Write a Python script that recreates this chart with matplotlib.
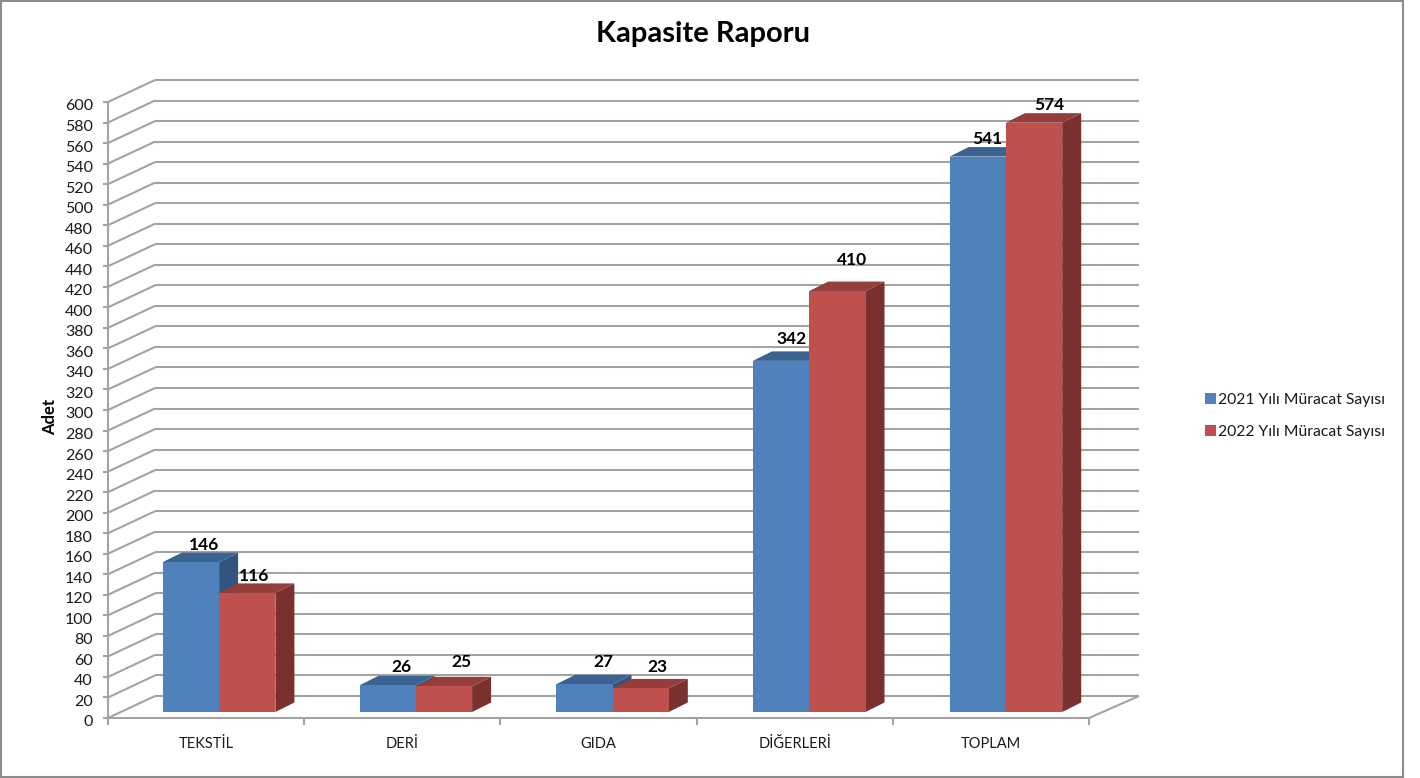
import matplotlib
matplotlib.use("Agg")
import matplotlib.pyplot as plt
from matplotlib.patches import Polygon, Rectangle, Patch

categories = ["TEKSTİL", "DERİ", "GIDA", "DİĞERLERİ", "TOPLAM"]
values_2021 = [146, 26, 27, 342, 541]
values_2022 = [116, 25, 23, 410, 574]
series_names = ["2021 Yılı Müracat Sayısı", "2022 Yılı Müracat Sayısı"]
y_ticks = list(range(0, 601, 20))

# nudges of the data labels, in pixels, from the top middle of each bar
nudge_2021 = [(13, 17), (14, 18), (19, 22), (10, 22), (10, 18)]
nudge_2022 = [(7, 17), (17, 24), (17, 21), (15, 31), (15, 18)]

W, H = 1420, 778
plt.rcParams["font.family"] = ["Lato", "DejaVu Sans"]
fig = plt.figure(figsize=(W / 100, H / 100), dpi=100)
ax = fig.add_axes([108 / W, 1 - 718 / H, 981 / W, 616 / H])
ax.set_xlim(0, 5)
ax.set_ylim(0, 600)
ax.axis("off")

# pixels to data units
px_x = 5 / 981
px_y = 600 / 616
grid_col = "#A3A3A3"
text_col = "#1A1A1A"


def line(xs, ys, z=1, lw=1.5):
    ax.plot(xs, ys, color=grid_col, lw=lw, clip_on=False, zorder=z, solid_capstyle="butt")


# outer frame of the chart
fig.add_artist(Rectangle((1 / W, 1 - 776.5 / H), 1402 / W, 775.5 / H, fill=False,
                         ec="#8C8C8C", lw=1.5, transform=fig.transFigure))

# walls: every tick gets a slanted part and a long part on the back wall
wall_x = 47 * px_x
wall_y = 22 * px_y
for t in y_ticks:
    line([0, wall_x], [t, t + wall_y])
    line([wall_x, 5 + 50 * px_x], [t + wall_y, t + wall_y])
    line([-5 * px_x, 0], [t, t])
    ax.text(-15 * px_x, t - 4.5 * px_y, str(t), ha="right", va="center", fontsize=11.5, color=text_col)

# floor and axis lines
line([0, 0], [0, 600])
line([0, 5], [0, 0])
line([5, 5 + 50 * px_x], [0, wall_y])
for i in range(6):
    line([i, i], [0, -7 * px_y])
for i, c in enumerate(categories):
    ax.text(i + 0.5, -26 * px_y, c, ha="center", va="center", fontsize=10.5, color=text_col)

# 3d bars
bar_w = 56.3 * px_x
base_x = 13 * px_x
base_y = 6 * px_y
depth_x = 19 * px_x
depth_y = 9.5 * px_y
styles = [("#4F81BD", "#3B6391", "#32547F"), ("#C0504D", "#943D3B", "#7A302E")]


def bar3d(x, v, cols, z):
    y0 = base_y
    y1 = base_y + v
    front, top, side = cols
    ax.add_patch(Polygon([(x + bar_w, y0), (x + bar_w + depth_x, y0 + depth_y),
                          (x + bar_w + depth_x, y1 + depth_y), (x + bar_w, y1)],
                         fc=side, ec="none", clip_on=False, zorder=z))
    ax.add_patch(Polygon([(x, y1), (x + depth_x, y1 + depth_y),
                          (x + bar_w + depth_x, y1 + depth_y), (x + bar_w, y1)],
                         fc=top, ec="none", clip_on=False, zorder=z))
    ax.add_patch(Rectangle((x, y0), bar_w, v, fc=front, ec="none", clip_on=False, zorder=z))


for i in range(len(categories)):
    # the groups drift about half a pixel per category against the ticks
    x1 = i + 0.5 - bar_w + base_x + i * 0.5 * px_x
    x2 = x1 + bar_w
    bar3d(x1, values_2021[i], styles[0], 3)
    bar3d(x2, values_2022[i], styles[1], 4)
    ax.text(x1 + bar_w / 2 + nudge_2021[i][0] * px_x, base_y + values_2021[i] + nudge_2021[i][1] * px_y,
            str(values_2021[i]), ha="center", va="center", fontsize=12.5, fontweight="bold",
            color="black", zorder=6)
    ax.text(x2 + bar_w / 2 + nudge_2022[i][0] * px_x, base_y + values_2022[i] + nudge_2022[i][1] * px_y,
            str(values_2022[i]), ha="center", va="center", fontsize=12.5, fontweight="bold",
            color="black", zorder=6)

fig.text(703 / W, 1 - 34 / H, "Kapasite Raporu", ha="center", va="center", fontsize=21,
         fontweight="bold", color="black")
fig.text(50 / W, 1 - 417 / H, "Adet", rotation=90, ha="center", va="center", fontsize=12,
         fontweight="bold", color="black")

handles = [Patch(fc=styles[0][0], label=series_names[0]), Patch(fc=styles[1][0], label=series_names[1])]
fig.legend(handles=handles, loc="center left", bbox_to_anchor=(1205 / W, 1 - 416 / H), frameon=False,
           fontsize=11.3, labelcolor=text_col, handlelength=0.7, handleheight=0.7, handletextpad=0.12,
           labelspacing=1.1, borderpad=0, borderaxespad=0)

fig.savefig("out.png", dpi=100, facecolor="white")
